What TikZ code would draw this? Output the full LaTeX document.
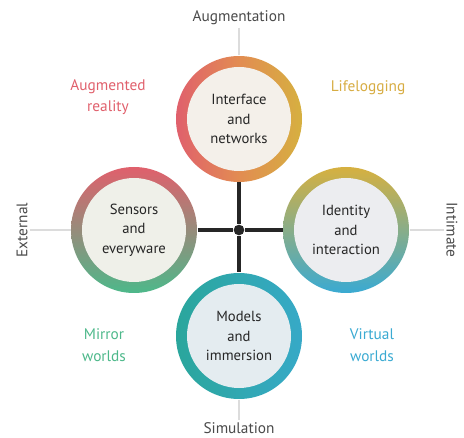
\documentclass[tikz,border=0pt]{standalone}
\usepackage{fontspec}
\setmainfont{PT Sans}
\definecolor{axisgray}{HTML}{4A4A4A}
\definecolor{faintgray}{HTML}{DCDCDC}
\definecolor{rosered}{HTML}{E0606C}
\definecolor{ambergold}{HTML}{D6B040}
\definecolor{tangerine}{HTML}{E28C52}
\definecolor{leafgreen}{HTML}{4DB88A}
\definecolor{skyblue}{HTML}{3AAAD2}
\definecolor{seateal}{HTML}{2AA69C}
\tikzset{every picture/.style={line width=0.75pt}}
\tikzset{
  ring/.style={circle, minimum size=94.5pt, inner sep=0pt},
  core/.style={circle, minimum size=78pt, inner sep=0pt, align=center,
    font=\fontsize{11}{14.5}\selectfont, text=black!85},
  axislabel/.style={font=\fontsize{11.5}{13}\selectfont, text=axisgray, inner sep=1.5pt},
  quadlabel/.style={align=center, font=\fontsize{11.5}{16}\selectfont},
  axis/.style={line width=2.4pt, black!85},
  faint/.style={line width=1.5pt, faintgray}
}

\begin{document}
\begin{tikzpicture}[x=0.75pt,y=0.75pt,yscale=-1,xscale=1]
\useasboundingbox (0,0) rectangle (464,438);

% Axis labels
\node[axislabel] (augL) at (239,18) {Augmentation};
\node[axislabel] (simL) at (239,428) {Simulation};
\node[axislabel, rotate=90] (extL) at (22,230) {External};
\node[axislabel, rotate=-90] (intL) at (452,230) {Intimate};

% Rings
\node[ring, left color=rosered, right color=ambergold, middle color=tangerine] (aug) at (239,119) {};
\node[ring, top color=rosered, bottom color=leafgreen] (sens) at (134,230) {};
\node[ring, top color=ambergold, bottom color=skyblue] (ident) at (346,230) {};
\node[ring, left color=seateal, right color=skyblue!80!seateal] (sim) at (239,336) {};

% Faint outer lines
\draw[faint] (augL) -- (aug);
\draw[faint] (sim) -- (simL);
\draw[faint] (extL) -- (sens);
\draw[faint] (ident) -- (intL);

% Centre cross
\node[circle, fill=black!85, minimum size=8pt, inner sep=0pt] (hub) at (239,230) {};
\draw[axis] (aug) -- (hub) -- (sim);
\draw[axis] (sens) -- (hub) -- (ident);

% Ring centres
\node[core, fill={rgb,255:red,244;green,240;blue,234}] (augT) at (aug) {Interface\\and\\networks};
\node[core, fill={rgb,255:red,239;green,240;blue,233}] (sensT) at (sens) {Sensors\\and\\everyware};
\node[core, fill={rgb,255:red,236;green,237;blue,240}] (identT) at (ident) {Identity\\and\\interaction};
\node[core, fill={rgb,255:red,228;green,236;blue,240}] (simT) at (sim) {Models\\and\\immersion};

% Quadrant labels
\node[quadlabel, text=rosered] (arL) at (108,97) {Augmented\\reality};
\node[quadlabel, text=ambergold!90!tangerine] (lifeL) at (368,88) {Lifelogging};
\node[quadlabel, text=leafgreen] (mirL) at (104,345) {Mirror\\worlds};
\node[quadlabel, text=skyblue] (virL) at (372,345) {Virtual\\worlds};

\end{tikzpicture}
\end{document}
